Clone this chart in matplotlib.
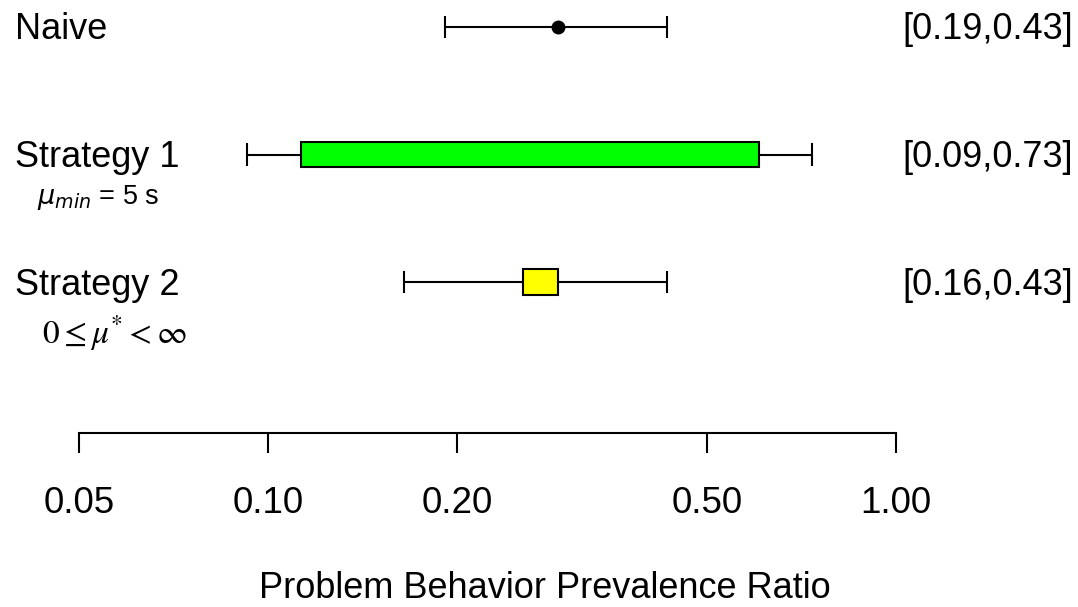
import matplotlib
matplotlib.use("Agg")
import matplotlib.pyplot as plt
import numpy as np

plt.rcParams['font.family'] = ['Liberation Sans', 'DejaVu Sans']

# Data
labels = ["Naive", "Strategy 1", "Strategy 2"]
sublabels = [None, r"$\mu_{min}$ = 5 s", r"$0 \leq \mu^{*} < \infty$"]
whisker_lo = [0.191, 0.0926, 0.1646]
whisker_hi = [0.432, 0.735, 0.432]
box_lo = [None, 0.1128, 0.2547]
box_hi = [None, 0.605, 0.2896]
point = [0.2896, None, None]
box_colors = [None, "#00FF00", "#FFFF00"]
interval_text = ["[0.19,0.43]", "[0.09,0.73]", "[0.16,0.43]"]
ticks = [0.05, 0.10, 0.20, 0.50, 1.00]
tick_labels = ["0.05", "0.10", "0.20", "0.50", "1.00"]
xlabel = "Problem Behavior Prevalence Ratio"

W, H = 1078, 607
fig = plt.figure(figsize=(W / 100, H / 100), dpi=100)
ax = fig.add_axes([0, 0, 1, 1])
ax.set_xscale('log')
# pixel mapping: 0.05 -> 79px, 1.0 -> 896px
ppd = (896 - 79) / np.log10(1 / 0.05)
xmin = 10 ** (np.log10(0.05) - 79 / ppd)
xmax = 10 ** (0 + (W - 896) / ppd)
ax.set_xlim(xmin, xmax)
row_px0, row_step = 27, 127.5
ax.set_ylim((H - row_px0) / row_step, -row_px0 / row_step)
ax.axis('off')

fs = 26
lw = 1.5
def fy(px):
    return 1 - px / H

for i in range(len(labels)):
    y = i
    ax.hlines(y, whisker_lo[i], whisker_hi[i], color='black', lw=lw, zorder=1)
    for xv in (whisker_lo[i], whisker_hi[i]):
        ax.vlines(xv, y - 0.087, y + 0.087, color='black', lw=lw, zorder=1)
    if box_lo[i] is not None:
        ax.barh(y, box_hi[i] - box_lo[i], left=box_lo[i], height=0.2,
                color=box_colors[i], edgecolor='black', linewidth=lw, zorder=2)
    if point[i] is not None:
        ax.plot(point[i], y, 'o', color='black', markersize=9, zorder=3)
    base = 39 + 128 * i
    ax.text(15 / W, fy(base), labels[i], transform=fig.transFigure,
            ha='left', va='baseline', fontsize=fs)
    ax.text(1073 / W, fy(base), interval_text[i], transform=fig.transFigure,
            ha='right', va='baseline', fontsize=fs)

ax.text(37 / W, fy(204), sublabels[1], transform=fig.transFigure, ha='left', va='baseline',
        fontsize=19.5, math_fontfamily='dejavusans')
ax.text(42 / W, fy(343), sublabels[2], transform=fig.transFigure, ha='left', va='baseline',
        fontsize=24, math_fontfamily='stix')

# bottom axis
ax2 = fig.add_axes([0, (H - 433) / H, 1, 0.0001], sharex=ax)
ax2.patch.set_visible(False)
for s in ['top', 'left', 'right']:
    ax2.spines[s].set_visible(False)
ax2.spines['bottom'].set_bounds(0.05, 1.0)
ax2.spines['bottom'].set_linewidth(lw)
ax2.set_yticks([])
ax2.set_xticks(ticks)
ax2.set_xticklabels(tick_labels, fontsize=26.5)
ax2.xaxis.set_minor_locator(matplotlib.ticker.NullLocator())
ax2.tick_params(axis='x', direction='out', length=14.4, width=lw, pad=24)
ax2.set_xlim(xmin, xmax)

fig.text(545 / W, fy(598), xlabel, ha='center', va='baseline', fontsize=fs)

fig.savefig("out.png", dpi=100)
